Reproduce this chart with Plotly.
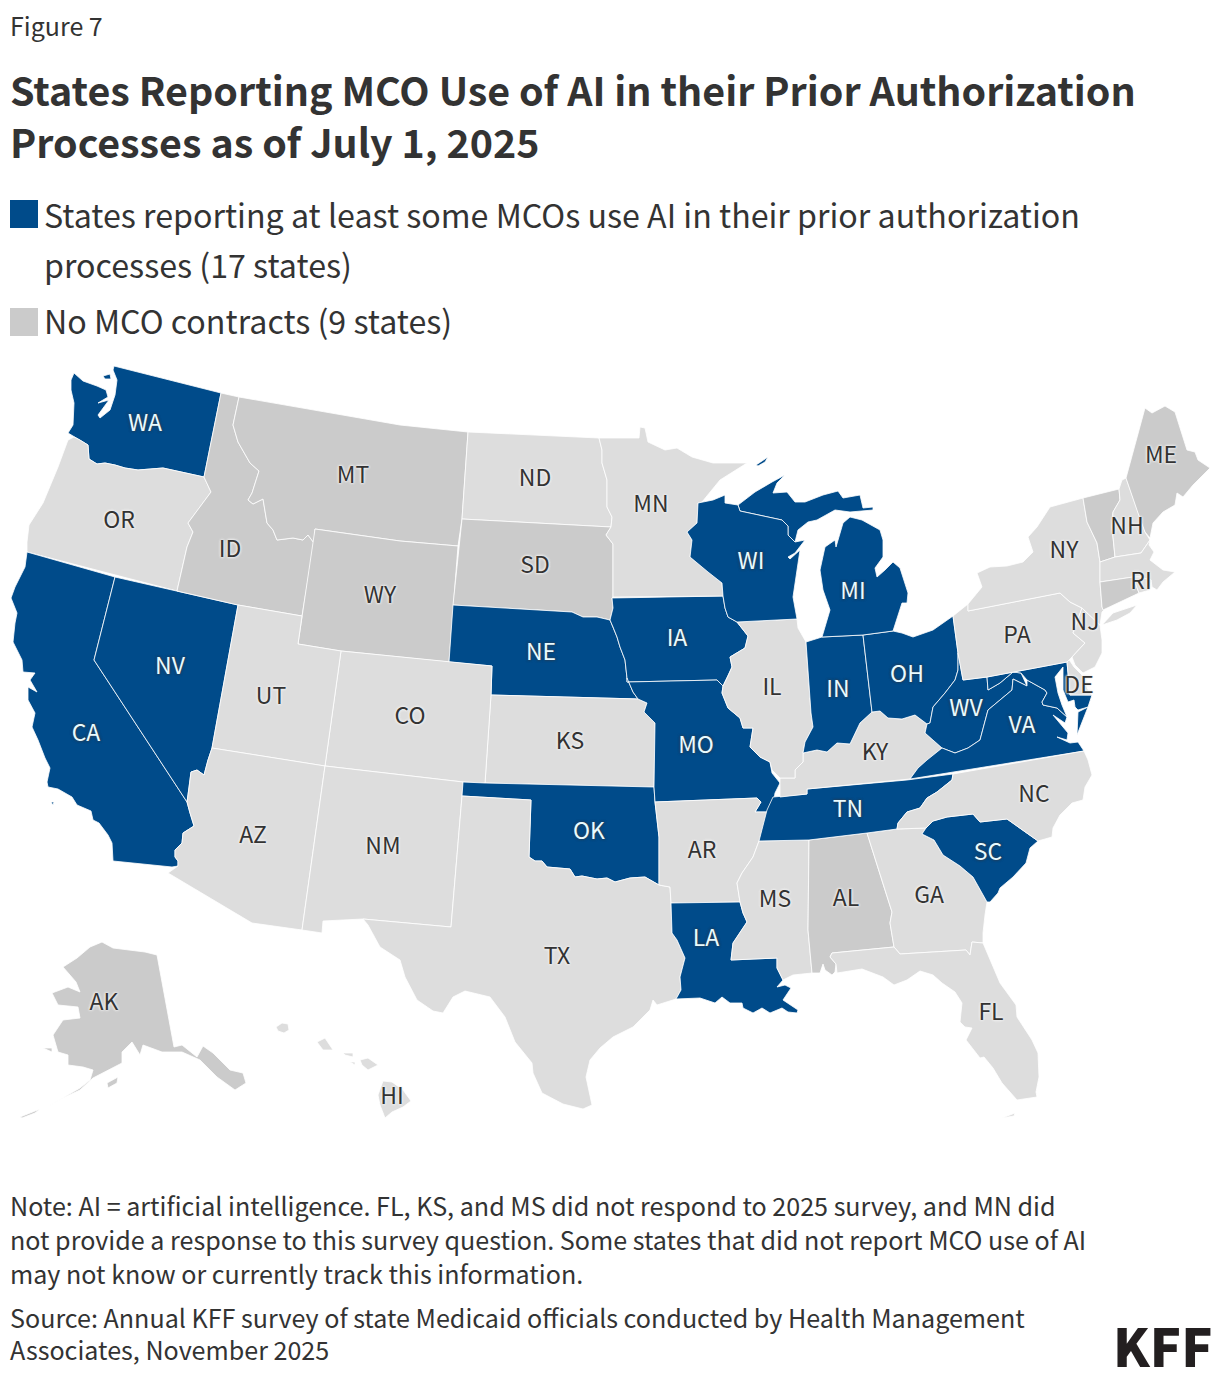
import plotly.graph_objects as go

# plotly's geo subplot needs topojson from the CDN and there's no network here,
# so the state outlines are hand traced from the picture (x, y on a 1220x1380 plane)
outlines = {
    "WA": [[(114,366),(221,393),(204,477),(163,468),(138,470),(125,468),(115,465),(105,463),(97,464),(89,459),(88,445),(80,440),(74,437),(68,433),(73,425),(74,403),(71,390),(71,380),(74,373),(83,381),(97,386),(106,390),(108,397),(98,403),(109,400),(98,415),(100,418),(110,410),(115,395),(117,380),(113,370)],
           [(103,376),(110,374),(111,379),(105,379)]],
    "OR": [[(204,477),(211,492),(200,507),(188,523),(193,532),(187,547),(177,591),(27,552),(27,542),(29,525),(43,503),(58,467),(68,440),(74,437),(80,440),(88,445),(89,459),(97,464),(105,463),(115,465),(125,468),(138,470),(163,468)]],
    "CA": [[(27,552),(115,577),(94,660),(187,802),(190,813),(194,826),(183,833),(182,843),(175,850),(175,857),(178,861),(178,866),(172,867),(113,861),(112,843),(108,835),(99,823),(93,820),(91,811),(77,805),(72,797),(58,789),(48,787),(47,782),(50,768),(45,758),(38,740),(32,727),(35,713),(28,700),(28,687),(37,692),(30,680),(35,673),(23,672),(22,660),(13,642),(15,623),(17,613),(11,598),(15,587),(25,567)],
           [(51,802),(54,802),(53,805)]],
    "NV": [[(115,577),(238,605),(212,748),(208,760),(204,775),(200,772),(197,770),(191,772),(189,788),(187,802),(94,660)]],
    "ID": [[(221,393),(239,397),(233,425),(238,442),(250,463),(259,471),(252,493),(248,500),(253,504),(263,499),(267,523),(273,530),(277,540),(293,538),(303,540),(308,535),(314,543),(302,616),(238,605),(177,591),(187,547),(193,532),(188,523),(200,507),(211,492),(204,477)]],
    "MT": [[(239,397),(400,425),(468,432),(462,519),(458,546),(400,541),(315,529),(314,543),(308,535),(303,540),(293,538),(277,540),(273,530),(267,523),(263,499),(253,504),(248,500),(252,493),(259,471),(250,463),(238,442),(233,425)]],
    "WY": [[(315,529),(400,541),(458,546),(449,662),(341,651),(298,644)]],
    "ND": [[(468,432),(599,438),(602,450),(602,463),(607,480),(607,507),(612,517),(611,527),(462,519)]],
    "SD": [[(462,519),(611,527),(606,535),(613,544),(613,597),(612,598),(613,608),(610,620),(597,617),(583,617),(572,612),(453,605)]],
    "NE": [[(453,605),(572,612),(583,617),(597,617),(610,620),(613,627),(617,637),(620,647),(625,660),(627,678),(633,692),(638,699),(491,695),(492,666),(449,662)]],
    "IA": [[(612,598),(723,596),(725,608),(728,617),(737,622),(748,636),(745,648),(730,657),(732,667),(728,676),(723,686),(717,680),(627,682),(627,678),(625,660),(620,647),(617,637),(613,627),(610,620),(613,608)]],
    "KS": [[(491,695),(638,699),(647,703),(644,712),(655,723),(654,787),(485,783)]],
    "CO": [[(341,651),(449,662),(492,666),(491,695),(485,783),(463,782),(325,766)]],
    "UT": [[(238,605),(302,616),(298,644),(341,651),(325,766),(212,748)]],
    "AZ": [[(212,748),(325,766),(302,930),(252,923),(168,873),(178,866),(178,861),(175,857),(175,850),(182,843),(183,833),(194,826),(190,813),(187,802),(189,788),(191,772),(197,770),(200,772),(204,775),(208,760)]],
    "NM": [[(325,766),(463,782),(462,796),(451,927),(363,919),(323,921),(322,933),(302,930)]],
    "OK": [[(463,782),(485,783),(654,787),(655,802),(659,837),(659,885),(645,877),(630,878),(615,882),(607,878),(597,879),(582,876),(575,877),(570,869),(547,867),(542,861),(535,861),(529,857),(531,800),(462,796)]],
    "TX": [[(462,796),(531,800),(529,857),(535,861),(542,861),(547,867),(570,869),(575,877),(582,876),(597,879),(607,878),(615,882),(630,878),(645,877),(659,885),(670,887),(671,903),(672,933),(677,940),(685,958),(680,977),(681,990),(676,999),(657,1005),(653,1000),(650,1010),(633,1027),(613,1037),(600,1048),(590,1060),(586,1077),(592,1105),(583,1109),(563,1104),(542,1093),(533,1073),(532,1063),(515,1042),(505,1017),(490,997),(465,991),(453,997),(443,1013),(433,1011),(417,1000),(405,977),(400,960),(380,947),(368,925),(363,919),(451,927)]],
    "MN": [[(599,438),(639,438),(640,427),(645,428),(648,442),(665,450),(677,448),(692,457),(713,463),(747,463),(720,480),(702,502),(698,503),(697,523),(687,532),(692,540),(690,557),(708,572),(722,583),(723,596),(613,597),(613,544),(606,535),(611,527),(612,517),(607,507),(607,480),(602,463),(602,450)]],
    "MO": [[(627,682),(717,680),(723,686),(722,693),(728,708),(740,718),(743,728),(753,728),(750,747),(760,757),(770,762),(772,773),(780,783),(775,793),(772,812),(755,812),(761,802),(757,798),(655,802),(654,787),(655,723),(644,712),(647,703),(638,699),(633,692),(627,678)]],
    "AR": [[(655,802),(757,798),(761,802),(755,812),(768,812),(767,823),(759,841),(753,857),(742,873),(737,883),(740,902),(671,903),(670,887),(659,885),(659,837)]],
    "LA": [[(671,903),(740,902),(743,913),(747,922),(733,943),(731,960),(777,958),(777,968),(783,980),(777,987),(785,985),(791,988),(783,1000),(798,1010),(797,1013),(788,1012),(782,1008),(770,1013),(762,1008),(753,1013),(743,1008),(742,1003),(730,1003),(722,997),(715,1003),(700,998),(676,999),(681,990),(680,977),(685,958),(677,940),(672,933)]],
    "MS": [[(759,841),(809,840),(808,930),(812,973),(793,975),(783,980),(777,968),(777,958),(731,960),(733,943),(747,922),(743,913),(740,902),(737,883),(742,873),(753,857)]],
    "AL": [[(809,840),(867,833),(884,887),(892,912),(890,923),(893,940),(894,947),(832,953),(830,957),(836,964),(835,972),(832,975),(825,970),(823,964),(820,973),(812,973),(808,930)]],
    "GA": [[(867,833),(897,829),(926,828),(922,834),(934,840),(943,855),(960,866),(973,877),(987,902),(985,915),(983,933),(983,943),(972,942),(970,955),(966,950),(900,954),(894,947),(893,940),(890,923),(892,912),(884,887)]],
    "SC": [[(922,834),(926,828),(933,821),(947,817),(973,814),(980,822),(1007,819),(1038,841),(1030,848),(1026,863),(1013,877),(1000,888),(998,893),(990,902),(987,902),(973,877),(960,866),(943,855),(934,840)]],
    "FL": [[(832,953),(894,947),(900,954),(966,950),(970,955),(972,942),(983,943),(990,960),(1000,983),(1016,1005),(1017,1017),(1032,1040),(1038,1053),(1039,1077),(1036,1092),(1037,1097),(1017,1100),(1002,1083),(993,1068),(984,1057),(980,1058),(966,1040),(972,1028),(965,1027),(960,1022),(962,1003),(955,992),(942,983),(933,975),(920,971),(907,980),(894,985),(883,977),(862,969),(837,973),(836,964),(830,957)],
           [(1002,1118),(1015,1113),(1014,1116)]],
    "TN": [[(759,841),(767,810),(773,797),(807,794),(807,789),(907,780),(953,774),(952,780),(937,792),(927,798),(920,808),(907,812),(898,823),(897,829),(867,833),(809,840)]],
    "KY": [[(780,797),(780,778),(795,778),(795,770),(803,762),(803,753),(817,750),(827,752),(837,743),(850,744),(860,723),(872,712),(880,711),(888,718),(902,719),(915,715),(927,724),(925,733),(942,748),(927,760),(918,768),(910,779),(807,789),(807,794)]],
    "IL": [[(737,622),(797,619),(798,628),(806,642),(811,713),(813,727),(805,742),(803,753),(803,762),(795,770),(795,778),(780,778),(772,770),(770,762),(760,757),(750,747),(753,728),(743,728),(740,718),(728,708),(722,693),(723,686),(728,676),(732,667),(730,657),(745,648),(748,636)]],
    "IN": [[(806,642),(822,637),(863,635),(872,712),(860,723),(850,744),(837,743),(827,752),(817,750),(803,753),(805,742),(813,727),(811,713)]],
    "OH": [[(863,635),(893,631),(902,633),(913,637),(933,630),(953,616),(958,653),(958,670),(955,680),(945,693),(933,707),(930,723),(927,724),(915,715),(902,719),(888,718),(880,711),(872,712)]],
    "MI": [[(822,637),(830,610),(823,590),(820,570),(825,547),(835,540),(836,547),(843,523),(850,517),(862,520),(880,530),(883,540),(883,557),(875,568),(877,577),(885,570),(893,562),(900,568),(908,593),(907,603),(902,603),(897,618),(893,631),(863,635)],
           [(738,505),(755,492),(772,482),(785,475),(777,483),(773,493),(787,492),(795,502),(805,502),(823,495),(838,491),(843,498),(860,495),(863,508),(873,507),(873,510),(850,512),(835,510),(817,520),(808,522),(798,530),(795,542),(788,535),(788,526),(782,520),(740,511)],
           [(756,465),(768,457),(765,462),(758,466)]],
    "WI": [[(698,503),(713,500),(725,495),(725,503),(738,505),(740,511),(782,520),(788,526),(788,535),(795,542),(805,540),(795,553),(788,557),(790,559),(800,550),(798,563),(795,583),(793,597),(797,619),(737,622),(728,617),(725,608),(723,596),(722,583),(708,572),(690,557),(692,540),(687,532),(697,523)]],
    "WV": [[(958,653),(963,680),(987,677),(988,690),(1000,683),(1013,672),(1021,673),(1027,686),(1013,679),(1012,690),(1000,700),(988,710),(980,740),(968,748),(955,753),(942,748),(925,733),(927,724),(930,723),(933,707),(945,693),(955,680),(958,670)]],
    "VA": [[(942,748),(955,753),(968,748),(980,740),(988,710),(1000,700),(1012,690),(1013,679),(1027,686),(1027,680),(1045,690),(1047,693),(1042,702),(1043,705),(1057,708),(1067,717),(1065,723),(1053,715),(1068,733),(1067,740),(1057,737),(1070,743),(1078,742),(1084,751),(910,779),(918,768),(927,760)],
           [(1077,735),(1078,712),(1088,707),(1082,722)]],
    "MD": [[(987,677),(1067,662),(1070,695),(1092,695),(1088,707),(1078,710),(1075,707),(1074,700),(1068,702),(1063,690),(1063,675),(1063,667),(1055,677),(1058,693),(1062,705),(1067,717),(1057,708),(1043,705),(1042,702),(1047,693),(1045,690),(1027,680),(1021,673),(1013,672),(1000,683),(988,690)]],
    "DE": [[(1067,662),(1068,658),(1074,667),(1082,675),(1089,692),(1092,695),(1070,695)]],
    "NC": [[(1084,751),(1088,760),(1092,775),(1085,787),(1083,800),(1072,803),(1060,815),(1053,828),(1052,837),(1038,841),(1007,819),(980,822),(973,814),(947,817),(933,821),(926,828),(897,829),(898,823),(907,812),(920,808),(927,798),(937,792),(952,780),(953,774),(1084,751)]],
    "PA": [[(953,616),(968,604),(968,611),(1060,593),(1070,602),(1082,608),(1073,633),(1085,643),(1072,657),(1067,662),(987,677),(963,680),(958,653)]],
    "NJ": [[(1082,608),(1100,625),(1102,640),(1102,653),(1095,667),(1083,673),(1075,665),(1072,657),(1085,643),(1073,633)]],
    "NY": [[(968,604),(982,587),(977,573),(990,567),(1007,566),(1023,562),(1033,552),(1028,537),(1037,527),(1050,507),(1083,498),(1087,522),(1097,543),(1100,562),(1100,582),(1102,607),(1104,610),(1102,612),(1100,625),(1082,608),(1070,602),(1060,593),(968,611)],
           [(1102,625),(1113,613),(1137,605),(1130,613),(1117,620)]],
    "VT": [[(1083,498),(1119,489),(1120,500),(1113,512),(1112,527),(1115,557),(1100,562),(1097,543),(1087,522)]],
    "NH": [[(1119,489),(1122,480),(1126,478),(1138,513),(1145,532),(1150,540),(1141,553),(1115,557),(1112,527),(1113,512),(1120,500)]],
    "ME": [[(1126,478),(1138,433),(1145,408),(1152,413),(1165,406),(1175,412),(1187,450),(1195,452),(1198,460),(1210,468),(1193,485),(1183,497),(1177,493),(1175,505),(1163,512),(1153,523),(1150,538),(1145,532),(1138,513)]],
    "MA": [[(1100,562),(1115,557),(1141,553),(1150,540),(1149,545),(1154,552),(1150,560),(1163,570),(1175,572),(1163,582),(1157,590),(1152,587),(1151,580),(1140,577),(1133,577),(1100,582)]],
    "CT": [[(1100,582),(1133,577),(1139,593),(1103,610),(1102,607)]],
    "RI": [[(1133,577),(1140,577),(1151,580),(1150,590),(1139,593)]],
    "AK": [[(102,942),(113,948),(145,952),(157,955),(174,1047),(182,1045),(197,1057),(203,1046),(213,1053),(230,1070),(243,1073),(246,1083),(235,1090),(217,1077),(200,1060),(182,1052),(162,1052),(143,1045),(140,1055),(132,1042),(122,1052),(122,1063),(93,1078),(80,1090),(63,1098),(47,1107),(67,1095),(80,1088),(90,1080),(93,1070),(83,1067),(68,1065),(68,1055),(58,1052),(53,1035),(63,1020),(80,1018),(78,1007),(58,1005),(52,993),(68,987),(80,992),(76,982),(63,967),(77,958),(90,947)],
           [(20,1117),(33,1112),(40,1109),(35,1113),(22,1118)],
           [(107,1083),(118,1077),(117,1083),(108,1088)],
           [(43,1048),(52,1048),(52,1052)],
           [(31,1009),(43,1016),(37,1012)]],
    "HI": [[(276,1027),(282,1023),(288,1024),(289,1030),(284,1033),(278,1031)],
           [(317,1042),(325,1038),(333,1050),(323,1050)],
           [(343,1053),(353,1053),(353,1057),(345,1055)],
           [(350,1062),(355,1062),(355,1065)],
           [(360,1060),(368,1058),(378,1065),(368,1070),(362,1065)],
           [(378,1095),(383,1081),(392,1082),(403,1090),(411,1101),(403,1107),(392,1112),(385,1118),(380,1105)]],
}

ai_states = ["WA", "CA", "NV", "NE", "IA", "MO", "OK", "LA", "WI", "MI", "IN", "OH", "WV", "VA", "MD", "TN", "SC"]
no_mco_states = ["AK", "AL", "CT", "ID", "ME", "MT", "SD", "VT", "WY"]

label_pos = {
    "WA": (145,425), "OR": (119,522), "CA": (86,735), "NV": (170,668), "ID": (230,551), "MT": (353,477),
    "WY": (380,597), "UT": (271,698), "AZ": (253,837), "CO": (410,718), "NM": (383,848), "ND": (535,480),
    "SD": (535,567), "NE": (541,654), "KS": (570,743), "OK": (589,833), "TX": (557,958), "MN": (651,506),
    "IA": (677,640), "MO": (696,747), "AR": (702,852), "LA": (706,940), "WI": (751,563), "IL": (772,689),
    "MS": (775,901), "MI": (853,593), "IN": (838,691), "OH": (907,676), "KY": (875,754), "TN": (848,811),
    "AL": (846,900), "GA": (929,897), "FL": (991,1014), "SC": (988,854), "NC": (1034,796), "VA": (1022,727),
    "WV": (966,710), "PA": (1017,637), "NY": (1064,552), "NJ": (1085,624), "DE": (1079,687), "NH": (1127,528),
    "ME": (1161,457), "RI": (1141,583), "AK": (104,1004), "HI": (392,1098),
}

BLUE = "#004b8a"
MID_GREY = "#cbcbcb"
LIGHT_GREY = "#dddddd"
TEXT = "#333333"
FONT = "Noto Sans CJK SC"

fig = go.Figure()

for state, parts in outlines.items():
    xs, ys = [], []
    for part in parts:
        xs += [p[0] for p in part] + [part[0][0], None]
        ys += [p[1] for p in part] + [part[0][1], None]
    if state in ai_states:
        color = BLUE
    elif state in no_mco_states:
        color = MID_GREY
    else:
        color = LIGHT_GREY
    fig.add_trace(go.Scatter(x=xs, y=ys, mode="lines", fill="toself", fillcolor=color,
                             line=dict(color="white", width=0.8), name=state,
                             showlegend=False, hoverinfo="name"))

on_blue = [s for s in label_pos if s in ai_states]
on_grey = [s for s in label_pos if s not in ai_states]
fig.add_trace(go.Scatter(x=[label_pos[s][0] for s in on_grey], y=[label_pos[s][1] for s in on_grey],
                         text=on_grey, mode="text", showlegend=False, hoverinfo="skip",
                         textfont=dict(family=FONT, size=23, color=TEXT,
                                       shadow="0 0 3px #f2f2f2, 0 0 3px #f2f2f2, 0 0 2px #f2f2f2")))
fig.add_trace(go.Scatter(x=[label_pos[s][0] for s in on_blue], y=[label_pos[s][1] for s in on_blue],
                         text=on_blue, mode="text", showlegend=False, hoverinfo="skip",
                         textfont=dict(family=FONT, size=23, color="#e9fbff",
                                       shadow="0 0 3px #24405c, 0 0 3px #24405c, 0 0 2px #24405c")))


def add_text(x, y, text, size, weight=400, color=TEXT):
    fig.add_annotation(x=x, y=y, xref="x", yref="y", text=text, showarrow=False,
                       xanchor="left", yanchor="middle", align="left",
                       font=dict(family=FONT, size=size, color=color, weight=weight))


add_text(8, 25, "Figure 7", 25)
add_text(8, 88, "States Reporting MCO Use of AI in their Prior Authorization", 39.4, weight=700)
add_text(8, 140, "Processes as of July 1, 2025", 39.4, weight=700)
add_text(42, 214, "States reporting at least some MCOs use AI in their prior authorization", 32.2)
add_text(42, 264, "processes (17 states)", 32.2)
add_text(42, 320, "No MCO contracts (9 states)", 32.2)
add_text(8, 1205, "Note: AI = artificial intelligence. FL, KS, and MS did not respond to 2025 survey, and MN did", 25.1)
add_text(8, 1239, "not provide a response to this survey question. Some states that did not report MCO use of AI", 25.1)
add_text(8, 1273, "may not know or currently track this information.", 25.1)
add_text(8, 1317, "Source: Annual KFF survey of state Medicaid officials conducted by Health Management", 25.1)
add_text(8, 1349, "Associates, November 2025", 25.1)
add_text(1111, 1344, "KFF", 52, weight=900, color="#231f20")

fig.add_shape(type="rect", x0=10, x1=38, y0=200, y1=228, fillcolor=BLUE, line_width=0)
fig.add_shape(type="rect", x0=10, x1=38, y0=308, y1=336, fillcolor=MID_GREY, line_width=0)

# the page body keeps its 8px margin, so the plane starts at 8 to stay 1:1 with the window
fig.update_xaxes(range=[8, 1220], visible=False, fixedrange=True)
fig.update_yaxes(range=[1380, 8], visible=False, fixedrange=True)
fig.update_layout(width=1212, height=1372, margin=dict(l=0, r=0, t=0, b=0),
                  plot_bgcolor="white", paper_bgcolor="white", font_family=FONT)
fig.write_html("out.html")
